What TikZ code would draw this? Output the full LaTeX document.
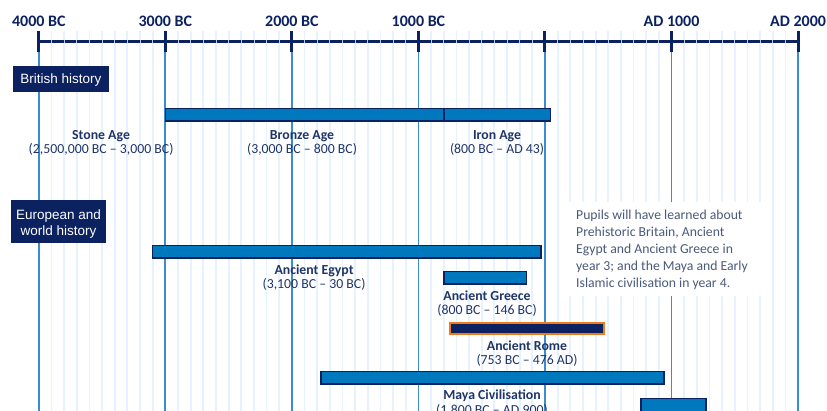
\documentclass[tikz,border=0pt]{standalone}
\usepackage{fontspec}
\setmainfont{Carlito}
\newfontfamily\boxfont{Liberation Sans}
\usetikzlibrary{positioning}
\definecolor{navy}{HTML}{0C2160}
\definecolor{labeltext}{HTML}{1F3468}
\definecolor{barblue}{HTML}{0078BE}
\definecolor{majorgrid}{HTML}{3A8ED0}
\definecolor{minorgrid}{HTML}{E6F3FE}
\definecolor{romeorange}{HTML}{F07A1E}
\definecolor{notetext}{HTML}{4A5A7A}
\tikzset{
  bar/.style={fill=barblue, draw=navy, line width=1.5pt},
  romebar/.style={fill=navy, draw=romeorange, line width=2pt},
  yearlabel/.style={font=\fontsize{16}{16}\selectfont\bfseries, text=navy, anchor=base, inner sep=0pt},
  period/.style={font=\fontsize{13.8}{14}\selectfont\bfseries, text=labeltext, anchor=base, inner sep=0pt, text height=9pt, text depth=3pt},
  dates/.style={font=\fontsize{13.8}{14}\selectfont, text=labeltext, inner sep=0pt, text height=9pt, text depth=3pt},
  sectionbox/.style={fill=navy, inner sep=0pt},
  boxtext/.style={text=white, font=\boxfont\fontsize{13.5}{16}\selectfont, align=center, inner sep=0pt}
}
\begin{document}
\begin{tikzpicture}[x=0.12655pt, y=-1pt]
	\useasboundingbox (-4306.6,0) rectangle (2228.4,411);
	% grid, every hundred years
	\foreach \x in {-40, ..., 20}
	{\draw[minorgrid, line width=1.8pt] (\x*100,31) -- (\x*100,411);}
	\foreach \x in {-4, ..., 2}
	{\draw[majorgrid, line width=1.8pt] (\x*1000,52) -- (\x*1000,411);}
	% axis
	\draw[navy, line width=3pt] (-4000,42) -- (2000,42);
	\foreach \x in {-40, ..., 20}
	{\draw[navy!25!white, line width=0.8pt] (\x*100,40.5) -- (\x*100,43.5);}
	\foreach \x in {-4, ..., 2}
	{\draw[navy, line width=3pt] (\x*1000,31) -- (\x*1000,52);}
	\node[yearlabel] (y4000) at (-4000,27) {4000 BC};
	\node[yearlabel] (y3000) at (-3000,27) {3000 BC};
	\node[yearlabel] (y2000) at (-2000,27) {2000 BC};
	\node[yearlabel] (y1000) at (-1000,27) {1000 BC};
	\node[yearlabel] (ad1000) at (1000,27) {AD 1000};
	\node[yearlabel] (ad2000) at (2000,27) {AD 2000};
	% British history
	\node[sectionbox, minimum width=96pt, minimum height=26pt] (british) at (-3824.6,79) {};
	\node[boxtext] (britishtext) at ([yshift=-1.5pt]british.center) {British history};
	\draw[bar] (-3000,108.75) rectangle (-800,121.25);
	\draw[bar] (-800,108.75) rectangle (43,121.25);
	\node[period] (stone) at (-3508,139.5) {Stone Age};
	\node[dates, below=2pt of stone] (stonedates) {(2,500,000 BC -- 3,000 BC)};
	\node[period] (bronze) at (-1920,139.5) {Bronze Age};
	\node[dates, below=2pt of bronze] (bronzedates) {(3,000 BC -- 800 BC)};
	\node[period] (iron) at (-379,139.5) {Iron Age};
	\node[dates, below=2pt of iron] (irondates) {(800 BC -- AD 43)};
	% European and world history
	\node[sectionbox, minimum width=95pt, minimum height=43pt] (world) at (-3844,221.5) {};
	\node[boxtext] (worldtext) at ([yshift=-2.5pt]world.center) {European and\\world history};
	\fill[white] (182,202) rectangle (1723,296);
	\node[font=\fontsize{13.7}{17}\selectfont, text=notetext, align=left, anchor=north west, inner sep=0pt] (note) at (245,209.5)
	{Pupils will have learned about\\Prehistoric Britain, Ancient\\Egypt and Ancient Greece in\\year 3; and the Maya and Early\\Islamic civilisation in year 4.};
	\draw[bar] (-3100,245.75) rectangle (-30,258.25);
	\node[period] (egypt) at (-1825,274.5) {Ancient Egypt};
	\node[dates, below=2pt of egypt] (egyptdates) {(3,100 BC -- 30 BC)};
	\draw[bar] (-800,271.75) rectangle (-146,284.25);
	\node[period] (greece) at (-458,300.5) {Ancient Greece};
	\node[dates, below=2pt of greece] (greecedates) {(800 BC -- 146 BC)};
	\draw[romebar] (-753,323) rectangle (466,334);
	\node[period] (rome) at (-142,350.5) {Ancient Rome};
	\node[dates, below=2pt of rome] (romedates) {(753 BC -- 476 AD)};
	\draw[bar] (-1770,371.75) rectangle (940,384.25);
	\node[period] (maya) at (-419,400) {Maya Civilisation};
	\node[dates, below=2pt of maya] (mayadates) {(1,800 BC -- AD 900)};
	\draw[bar] (759,398.75) rectangle (1272,413);
\end{tikzpicture}
\end{document}
